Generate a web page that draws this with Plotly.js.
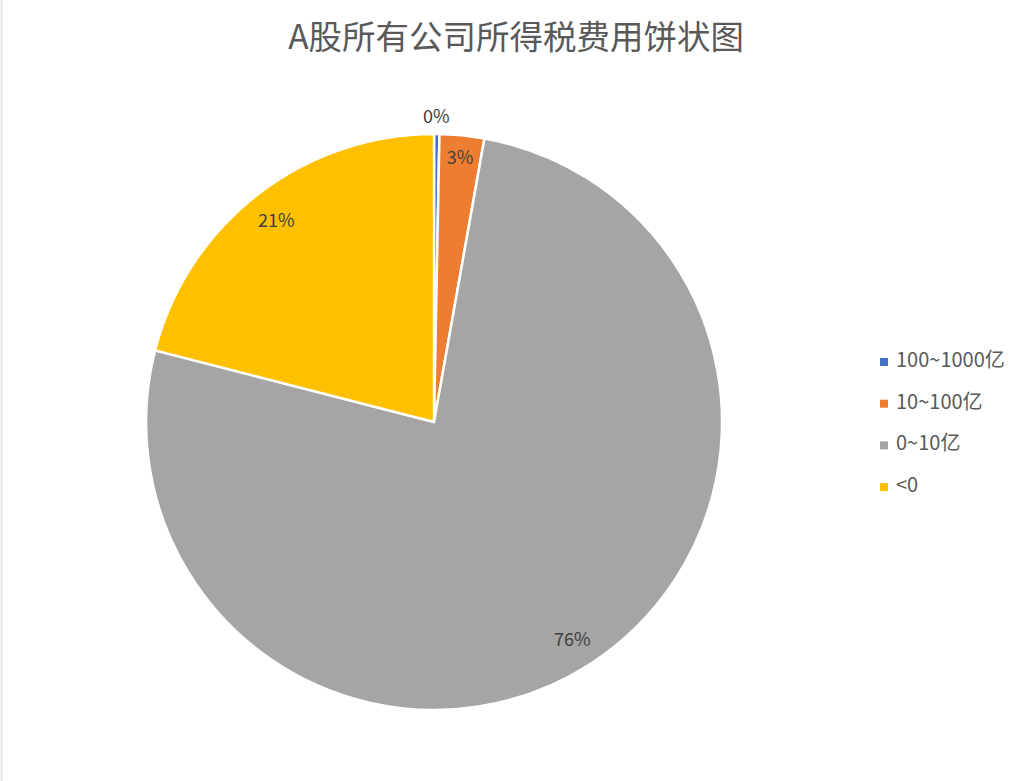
<!DOCTYPE html>
<html>
<head>
<meta charset="utf-8">
<script src="https://cdn.plot.ly/plotly-3.0.1.min.js"></script>
<style>
  html, body { margin: 0; padding: 0; background: #fff; }
  #plot { width: 1024px; height: 781px; }
</style>
</head>
<body>
<div id="plot"></div>
<script>
const categories = ['100~1000亿', '10~100亿', '0~10亿', '<0'];
const shares = [0.3, 2.5, 76.2, 21.0]; // percent of companies
const sliceColors = ['#4472C4', '#ED7D31', '#A5A5A5', '#FFC000'];
// only the thin orange slice keeps plotly's own label, the rest go where excel put them
const labelPositions = ['none', 'inside', 'none', 'none'];
const labelRadius = [1.065, 0, 0.89, 0.89]; // fraction of pie radius

const W = 1024, H = 781;
const pieX = [0.1426, 0.7051], pieY = [0.0909, 0.8284];
const font = '"Noto Sans CJK SC", "Microsoft YaHei", sans-serif';
const labelColor = '#404040';

// overlay axes in pixel units
const cx = W * (pieX[0] + pieX[1]) / 2;
const cy = H * (pieY[0] + pieY[1]) / 2;
const R = W * (pieX[1] - pieX[0]) / 2;
const total = shares.reduce((s, v) => s + v, 0);

const annotations = [];
let cum = 0;
shares.forEach((v, i) => {
    const mid = (cum + v / 2) / total * 2 * Math.PI;
    cum += v;
    if (labelPositions[i] !== 'none') return;
    annotations.push({
        xref: 'x', yref: 'y',
        x: cx + labelRadius[i] * R * Math.sin(mid),
        y: cy + labelRadius[i] * R * Math.cos(mid),
        text: Math.round(v / total * 100) + '%',
        showarrow: false,
        font: { family: font, size: 18, color: labelColor }
    });
});

// legend rows
const legX = 884, legTop = H - 362, legStep = 41.7;
const legY = categories.map((c, i) => legTop - i * legStep);

Plotly.newPlot('plot', [{
    type: 'pie',
    labels: categories,
    values: shares,
    sort: false,
    direction: 'clockwise',
    rotation: 0,
    marker: { colors: sliceColors, line: { color: '#ffffff', width: 2.5 } },
    texttemplate: '%{percent:.0%}',
    textposition: labelPositions,
    insidetextorientation: 'horizontal',
    textfont: { family: font, size: 18, color: labelColor },
    hoverinfo: 'skip',
    showlegend: false,
    domain: { x: pieX, y: pieY }
}, {
    type: 'scatter',
    mode: 'markers',
    x: categories.map(() => legX),
    y: legY,
    marker: { symbol: 'square', size: 8, color: sliceColors },
    cliponaxis: false,
    hoverinfo: 'skip',
    showlegend: false
}, {
    type: 'scatter',
    mode: 'text',
    x: categories.map(() => legX + 12),
    y: legY,
    text: categories.map(c => c.replace('<', '&lt;')),
    textposition: 'middle right',
    textfont: { family: font, size: 20, color: '#595959' },
    cliponaxis: false,
    hoverinfo: 'skip',
    showlegend: false
}], {
    width: W,
    height: H,
    margin: { l: 0, r: 0, t: 0, b: 0 },
    paper_bgcolor: '#ffffff',
    plot_bgcolor: 'rgba(0,0,0,0)',
    xaxis: { domain: [0, 1], range: [0, W], visible: false, fixedrange: true },
    yaxis: { domain: [0, 1], range: [0, H], visible: false, fixedrange: true },
    annotations: annotations,
    title: {
        text: 'A股所有公司所得税费用饼状图',
        font: { family: font, size: 33.5, color: '#595959' },
        x: 0.504, xanchor: 'center',
        y: 0.952, yanchor: 'middle'
    },
    showlegend: false,
    shapes: [{
        type: 'line', xref: 'paper', yref: 'paper',
        x0: 0.0015, x1: 0.0015, y0: 0, y1: 1,
        line: { color: '#e2e2e2', width: 1.5 }
    }]
}, { displayModeBar: false, staticPlot: true });
</script>
</body>
</html>
